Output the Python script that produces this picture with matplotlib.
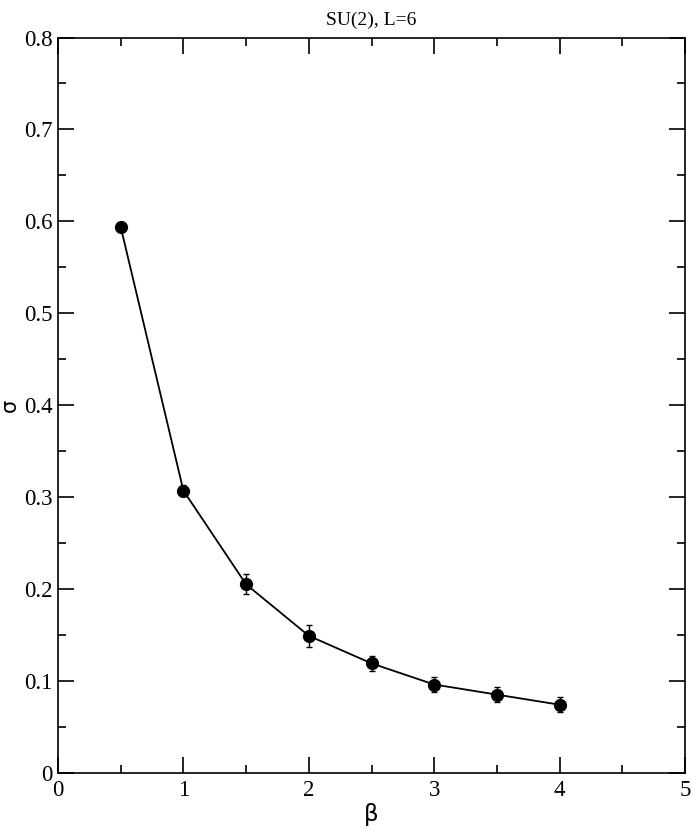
import numpy as np
import matplotlib
matplotlib.use('Agg')
import matplotlib.pyplot as plt
from matplotlib.ticker import MultipleLocator

# beta values, string tension and error
beta = np.array([0.5, 1.0, 1.5, 2.0, 2.5, 3.0, 3.5, 4.0])
sigma = np.array([0.594, 0.307, 0.205, 0.149, 0.119, 0.096, 0.085, 0.074])
sigma_err = np.array([0.004, 0.006, 0.011, 0.012, 0.008, 0.008, 0.008, 0.008])

plt.rcParams['font.family'] = ['Liberation Serif', 'DejaVu Serif']

fig = plt.figure(figsize=(6.92, 8.30), dpi=100)
ax = fig.add_axes([0.0838, 0.069, 0.9061, 0.8858])

ax.errorbar(beta, sigma, yerr=sigma_err, color='black', lw=1.3,
            marker='o', markersize=8.5, capsize=2.2, elinewidth=1.0,
            capthick=1.0)

ax.set_xlim(0, 5)
ax.set_ylim(0, 0.8)
ax.xaxis.set_major_locator(MultipleLocator(1))
ax.xaxis.set_minor_locator(MultipleLocator(0.5))
ax.yaxis.set_major_locator(MultipleLocator(0.1))
ax.yaxis.set_minor_locator(MultipleLocator(0.05))
ax.yaxis.set_major_formatter(plt.FuncFormatter(lambda v, p: '0' if v == 0 else f'{v:.1f}'))

ax.tick_params(which='both', direction='in', top=True, right=True,
               labelsize=16.5, width=1.2, color='black')
ax.tick_params(which='major', length=11.5)
ax.tick_params(which='minor', length=5.5)
ax.tick_params(axis='x', pad=5)
ax.tick_params(axis='y', pad=4)
for s in ax.spines.values():
    s.set_linewidth(1.2)

ax.set_xlabel('β', fontsize=16.5, family='DejaVu Sans', labelpad=2)
ax.set_ylabel('σ', fontsize=15, family='DejaVu Sans', va='center')
ax.yaxis.set_label_coords(-0.076, 0.5)
ax.set_title('SU(2), L=6', fontsize=14, pad=9)

fig.savefig('out.png', dpi=100)
